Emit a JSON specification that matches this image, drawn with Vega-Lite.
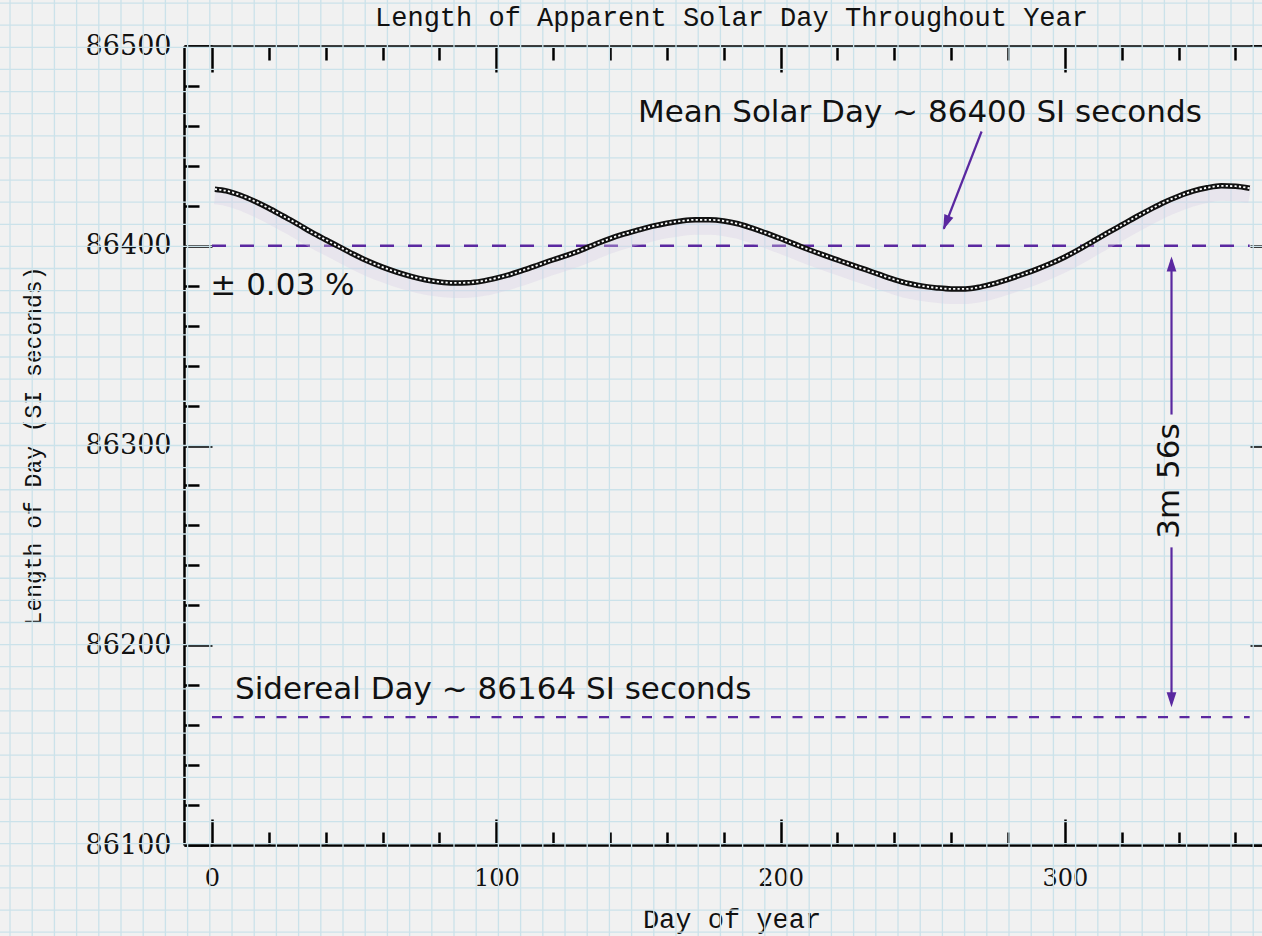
{
  "$schema": "https://vega.github.io/schema/vega-lite/v6.json",
  "width": 1078,
  "height": 799,
  "autosize": {"type": "none"},
  "padding": {"left": 184, "top": 46, "right": 0, "bottom": 91},
  "background": "#f1f1f1",
  "title": {
    "text": "Length of Apparent Solar Day Throughout Year",
    "font": "Liberation Mono",
    "fontSize": 27,
    "fontWeight": "normal",
    "color": "#111111",
    "anchor": "middle",
    "frame": "group",
    "baseline": "alphabetic",
    "dx": 8.5,
    "offset": -55
  },
  "config": {
    "view": {"stroke": null},
    "axis": {
      "zindex": 2,
      "grid": false,
      "domainColor": "#000000",
      "domainWidth": 2.5,
      "tickColor": "#000000",
      "tickWidth": 2.5,
      "labelColor": "#111111",
      "titleColor": "#111111",
      "labelFont": "DejaVu Serif",
      "titleFont": "Liberation Mono",
      "titleFontWeight": "normal",
      "labelFontSize": 25,
      "titleFontSize": 27,
      "format": "d"
    }
  },
  "resolve": {"axis": {"x": "independent", "y": "independent"}},
  "layer": [
    {
      "data": {"values": [
        {"gx": -71.05}, {"gx": -63.24}, {"gx": -55.43}, {"gx": -47.62}, {"gx": -39.82}, {"gx": -32.01}, {"gx": -24.2}, {"gx": -16.39}, {"gx": -8.58}, {"gx": -0.77},
        {"gx": 7.04}, {"gx": 14.85}, {"gx": 22.65}, {"gx": 30.46}, {"gx": 38.27}, {"gx": 46.08}, {"gx": 53.89}, {"gx": 61.7}, {"gx": 69.51}, {"gx": 77.32},
        {"gx": 85.12}, {"gx": 92.93}, {"gx": 100.74}, {"gx": 108.55}, {"gx": 116.36}, {"gx": 124.17}, {"gx": 131.98}, {"gx": 139.79}, {"gx": 147.59}, {"gx": 155.4},
        {"gx": 163.21}, {"gx": 171.02}, {"gx": 178.83}, {"gx": 186.64}, {"gx": 194.45}, {"gx": 202.25}, {"gx": 210.06}, {"gx": 217.87}, {"gx": 225.68}, {"gx": 233.49},
        {"gx": 241.3}, {"gx": 249.11}, {"gx": 256.92}, {"gx": 264.72}, {"gx": 272.53}, {"gx": 280.34}, {"gx": 288.15}, {"gx": 295.96}, {"gx": 303.77}, {"gx": 311.58},
        {"gx": 319.39}, {"gx": 327.19}, {"gx": 335.0}, {"gx": 342.81}, {"gx": 350.62}, {"gx": 358.43}, {"gx": 366.24}
      ]},
      "mark": {"type": "rule", "color": "#cbe2ea", "strokeWidth": 1.3},
      "encoding": {
        "x": {
          "field": "gx", "type": "quantitative",
          "scale": {"domain": [-9.85, 369.33], "nice": false, "zero": false},
          "axis": {
            "orient": "bottom", "values": [0, 100, 200, 300], "ticks": false, "domain": true,
            "labelPadding": 40, "labelBaseline": "alphabetic", "labelFontSize": 24,
            "title": "Day of year", "titleFontSize": 27, "titleX": 547.5, "titleY": 74, "titleBaseline": "middle"
          }
        },
        "y": {
          "datum": 86523.5, "type": "quantitative",
          "scale": {"domain": [86100, 86500], "nice": false, "zero": false},
          "axis": {
            "orient": "left", "values": [86100, 86200, 86300, 86400, 86500], "ticks": false, "domain": true,
            "labelPadding": 13, "labelFontSize": 27,
            "title": "Length of Day (SI seconds)", "titleFontSize": 23, "titleAngle": 270,
            "titleX": -151, "titleY": 399.5, "titleBaseline": "middle", "titleAlign": "center"
          }
        },
        "y2": {"datum": 86054}
      }
    },
    {
      "data": {"values": [
        {"gy": 86521.5}, {"gy": 86510.43}, {"gy": 86499.35}, {"gy": 86488.28}, {"gy": 86477.2}, {"gy": 86466.13}, {"gy": 86455.05}, {"gy": 86443.98}, {"gy": 86432.9}, {"gy": 86421.83},
        {"gy": 86410.75}, {"gy": 86399.68}, {"gy": 86388.6}, {"gy": 86377.53}, {"gy": 86366.45}, {"gy": 86355.38}, {"gy": 86344.3}, {"gy": 86333.23}, {"gy": 86322.15}, {"gy": 86311.08},
        {"gy": 86300.0}, {"gy": 86288.93}, {"gy": 86277.85}, {"gy": 86266.78}, {"gy": 86255.7}, {"gy": 86244.63}, {"gy": 86233.55}, {"gy": 86222.48}, {"gy": 86211.4}, {"gy": 86200.33},
        {"gy": 86189.25}, {"gy": 86178.18}, {"gy": 86167.1}, {"gy": 86156.03}, {"gy": 86144.95}, {"gy": 86133.88}, {"gy": 86122.8}, {"gy": 86111.73}, {"gy": 86100.65}, {"gy": 86089.58},
        {"gy": 86078.5}, {"gy": 86067.43}, {"gy": 86056.35}
      ]},
      "mark": {"type": "rule", "color": "#cbe2ea", "strokeWidth": 1.3},
      "encoding": {
        "y": {
          "field": "gy", "type": "quantitative",
          "axis": {"orient": "left", "values": [86100, 86200, 86300, 86400, 86500], "ticks": true, "tickSize": -28, "labels": false, "domain": false, "title": null}
        },
        "x": {
          "datum": -75, "type": "quantitative",
          "axis": {"orient": "bottom", "values": [0, 100, 200, 300], "ticks": true, "tickSize": -26, "labels": false, "domain": false, "title": null}
        },
        "x2": {"datum": 370}
      }
    },
    {
      "data": {"values": [{"line": "mean"}]},
      "mark": {"type": "rule", "color": "#5a28a0", "strokeWidth": 2.5, "strokeDash": [14, 14]},
      "encoding": {
        "x": {
          "datum": 0, "type": "quantitative",
          "axis": {"orient": "bottom", "values": [20, 40, 60, 80, 120, 140, 160, 180, 220, 240, 260, 280, 320, 340, 360], "ticks": true, "tickSize": -13, "labels": false, "domain": false, "title": null}
        },
        "x2": {"datum": 365},
        "y": {
          "datum": 86400, "type": "quantitative",
          "axis": {"orient": "left", "values": [86120, 86140, 86160, 86180, 86220, 86240, 86260, 86280, 86320, 86340, 86360, 86380, 86420, 86440, 86460, 86480], "ticks": true, "tickSize": -15, "labels": false, "domain": false, "title": null}
        }
      }
    },
    {
      "data": {"values": [{"line": "sidereal"}]},
      "mark": {"type": "rule", "color": "#5a28a0", "strokeWidth": 2.3, "strokeDash": [10, 11.5]},
      "encoding": {
        "x": {
          "datum": 0, "type": "quantitative",
          "axis": {"orient": "top", "values": [0, 100, 200, 300], "ticks": true, "tickSize": -26, "labels": false, "domain": true, "title": null}
        },
        "x2": {"datum": 365},
        "y": {
          "datum": 86164, "type": "quantitative",
          "axis": {"orient": "right", "values": [86100, 86200, 86300, 86400, 86500], "ticks": true, "tickSize": -12, "labels": false, "domain": false, "title": null}
        }
      }
    },
    {
      "data": {"name": "lod", "values": [
        {"day": 1, "lod": 86428.3}, {"day": 5, "lod": 86427.5}, {"day": 10, "lod": 86425.3}, {"day": 15, "lod": 86422.3},
        {"day": 20, "lod": 86418.8}, {"day": 25, "lod": 86414.9}, {"day": 30, "lod": 86411.0}, {"day": 35, "lod": 86406.8},
        {"day": 40, "lod": 86403.0}, {"day": 45, "lod": 86399.3}, {"day": 50, "lod": 86395.6}, {"day": 55, "lod": 86392.2},
        {"day": 60, "lod": 86389.3}, {"day": 65, "lod": 86386.8}, {"day": 70, "lod": 86384.7}, {"day": 75, "lod": 86383.0},
        {"day": 80, "lod": 86381.9}, {"day": 85, "lod": 86381.4}, {"day": 90, "lod": 86381.5}, {"day": 95, "lod": 86382.3},
        {"day": 100, "lod": 86383.8}, {"day": 105, "lod": 86385.7}, {"day": 110, "lod": 86388.0}, {"day": 115, "lod": 86390.5},
        {"day": 120, "lod": 86393.0}, {"day": 125, "lod": 86395.3}, {"day": 130, "lod": 86397.9}, {"day": 135, "lod": 86400.9},
        {"day": 140, "lod": 86403.6}, {"day": 145, "lod": 86405.9}, {"day": 150, "lod": 86407.9}, {"day": 155, "lod": 86409.8},
        {"day": 160, "lod": 86411.3}, {"day": 165, "lod": 86412.4}, {"day": 170, "lod": 86413.0}, {"day": 175, "lod": 86413.0},
        {"day": 180, "lod": 86412.4}, {"day": 185, "lod": 86411.0}, {"day": 190, "lod": 86408.8}, {"day": 195, "lod": 86406.3},
        {"day": 200, "lod": 86403.6}, {"day": 205, "lod": 86400.8}, {"day": 210, "lod": 86398.0}, {"day": 215, "lod": 86395.4},
        {"day": 220, "lod": 86392.9}, {"day": 225, "lod": 86390.4}, {"day": 230, "lod": 86388.0}, {"day": 235, "lod": 86385.5},
        {"day": 240, "lod": 86383.1}, {"day": 245, "lod": 86381.1}, {"day": 250, "lod": 86379.8}, {"day": 255, "lod": 86378.9},
        {"day": 260, "lod": 86378.4}, {"day": 265, "lod": 86378.4}, {"day": 270, "lod": 86379.3}, {"day": 275, "lod": 86381.0},
        {"day": 280, "lod": 86383.2}, {"day": 285, "lod": 86385.6}, {"day": 290, "lod": 86388.2}, {"day": 295, "lod": 86391.1},
        {"day": 300, "lod": 86394.4}, {"day": 305, "lod": 86398.2}, {"day": 310, "lod": 86402.3}, {"day": 315, "lod": 86406.4},
        {"day": 320, "lod": 86410.4}, {"day": 325, "lod": 86414.4}, {"day": 330, "lod": 86418.2}, {"day": 335, "lod": 86421.8},
        {"day": 340, "lod": 86424.8}, {"day": 345, "lod": 86427.3}, {"day": 350, "lod": 86429.0}, {"day": 355, "lod": 86430.0},
        {"day": 360, "lod": 86429.8}, {"day": 365, "lod": 86428.8}
      ]},
      "mark": {"type": "line", "color": "#d8cfe6", "strokeWidth": 16, "opacity": 0.35, "yOffset": 7, "interpolate": "monotone"},
      "encoding": {
        "x": {
          "field": "day", "type": "quantitative",
          "axis": {"orient": "top", "values": [20, 40, 60, 80, 120, 140, 160, 180, 220, 240, 260, 280, 320, 340, 360], "ticks": true, "tickSize": -14, "labels": false, "domain": false, "title": null}
        },
        "y": {"field": "lod", "type": "quantitative", "axis": null}
      }
    },
    {
      "data": {"name": "lod"},
      "mark": {"type": "line", "color": "#111111", "strokeWidth": 5.5, "interpolate": "monotone"},
      "encoding": {
        "x": {"field": "day", "type": "quantitative", "axis": null},
        "y": {"field": "lod", "type": "quantitative", "axis": null}
      }
    },
    {
      "data": {"name": "lod"},
      "mark": {"type": "line", "color": "#ffffff", "strokeWidth": 1.8, "strokeDash": [2.2, 2.2], "interpolate": "monotone"},
      "encoding": {
        "x": {"field": "day", "type": "quantitative", "axis": null},
        "y": {"field": "lod", "type": "quantitative", "axis": null}
      }
    },
    {
      "data": {"values": [
        {"label": "Mean Solar Day ~ 86400 SI seconds", "day": 149.8, "val": 86462.2},
        {"label": "± 0.03 %", "day": -0.6, "val": 86375.5},
        {"label": "Sidereal Day ~ 86164 SI seconds", "day": 8.1, "val": 86173}
      ]},
      "mark": {"type": "text", "font": "DejaVu Sans", "fontSize": 31, "color": "#111111", "align": "left", "baseline": "alphabetic"},
      "encoding": {
        "x": {"field": "day", "type": "quantitative", "axis": null},
        "y": {"field": "val", "type": "quantitative", "axis": null},
        "text": {"field": "label"}
      }
    },
    {
      "data": {"values": [{"label": "3m 56s", "day": 337, "val": 86282.2}]},
      "mark": {"type": "text", "font": "DejaVu Sans", "fontSize": 31, "color": "#111111", "align": "center", "baseline": "middle", "angle": 270},
      "encoding": {
        "x": {"field": "day", "type": "quantitative", "axis": null},
        "y": {"field": "val", "type": "quantitative", "axis": null},
        "text": {"field": "label"}
      }
    },
    {
      "data": {"values": [
        {"x1": 270.7, "y1": 86457.2, "x2": 257.4, "y2": 86408.5},
        {"x1": 337.5, "y1": 86393.0, "x2": 337.5, "y2": 86315.5},
        {"x1": 337.5, "y1": 86249.0, "x2": 337.5, "y2": 86171.0}
      ]},
      "mark": {"type": "rule", "color": "#5a28a0", "strokeWidth": 2.2},
      "encoding": {
        "x": {"field": "x1", "type": "quantitative", "axis": null},
        "y": {"field": "y1", "type": "quantitative", "axis": null},
        "x2": {"field": "x2"},
        "y2": {"field": "y2"}
      }
    },
    {
      "data": {"values": [{"day": 257.2, "val": 86408}]},
      "mark": {"type": "point", "shape": "M0,0L0.65,2L-0.65,2Z", "filled": true, "color": "#5a28a0", "opacity": 1, "size": 225, "angle": 202},
      "encoding": {
        "x": {"field": "day", "type": "quantitative", "axis": null},
        "y": {"field": "val", "type": "quantitative", "axis": null}
      }
    },
    {
      "data": {"values": [{"day": 337.5, "val": 86394.6}]},
      "mark": {"type": "point", "shape": "M0,0L0.65,2L-0.65,2Z", "filled": true, "color": "#5a28a0", "opacity": 1, "size": 225, "angle": 0},
      "encoding": {
        "x": {"field": "day", "type": "quantitative", "axis": null},
        "y": {"field": "val", "type": "quantitative", "axis": null}
      }
    },
    {
      "data": {"values": [{"day": 337.5, "val": 86169}]},
      "mark": {"type": "point", "shape": "M0,0L0.65,2L-0.65,2Z", "filled": true, "color": "#5a28a0", "opacity": 1, "size": 225, "angle": 180},
      "encoding": {
        "x": {"field": "day", "type": "quantitative", "axis": null},
        "y": {"field": "val", "type": "quantitative", "axis": null}
      }
    }
  ]
}
